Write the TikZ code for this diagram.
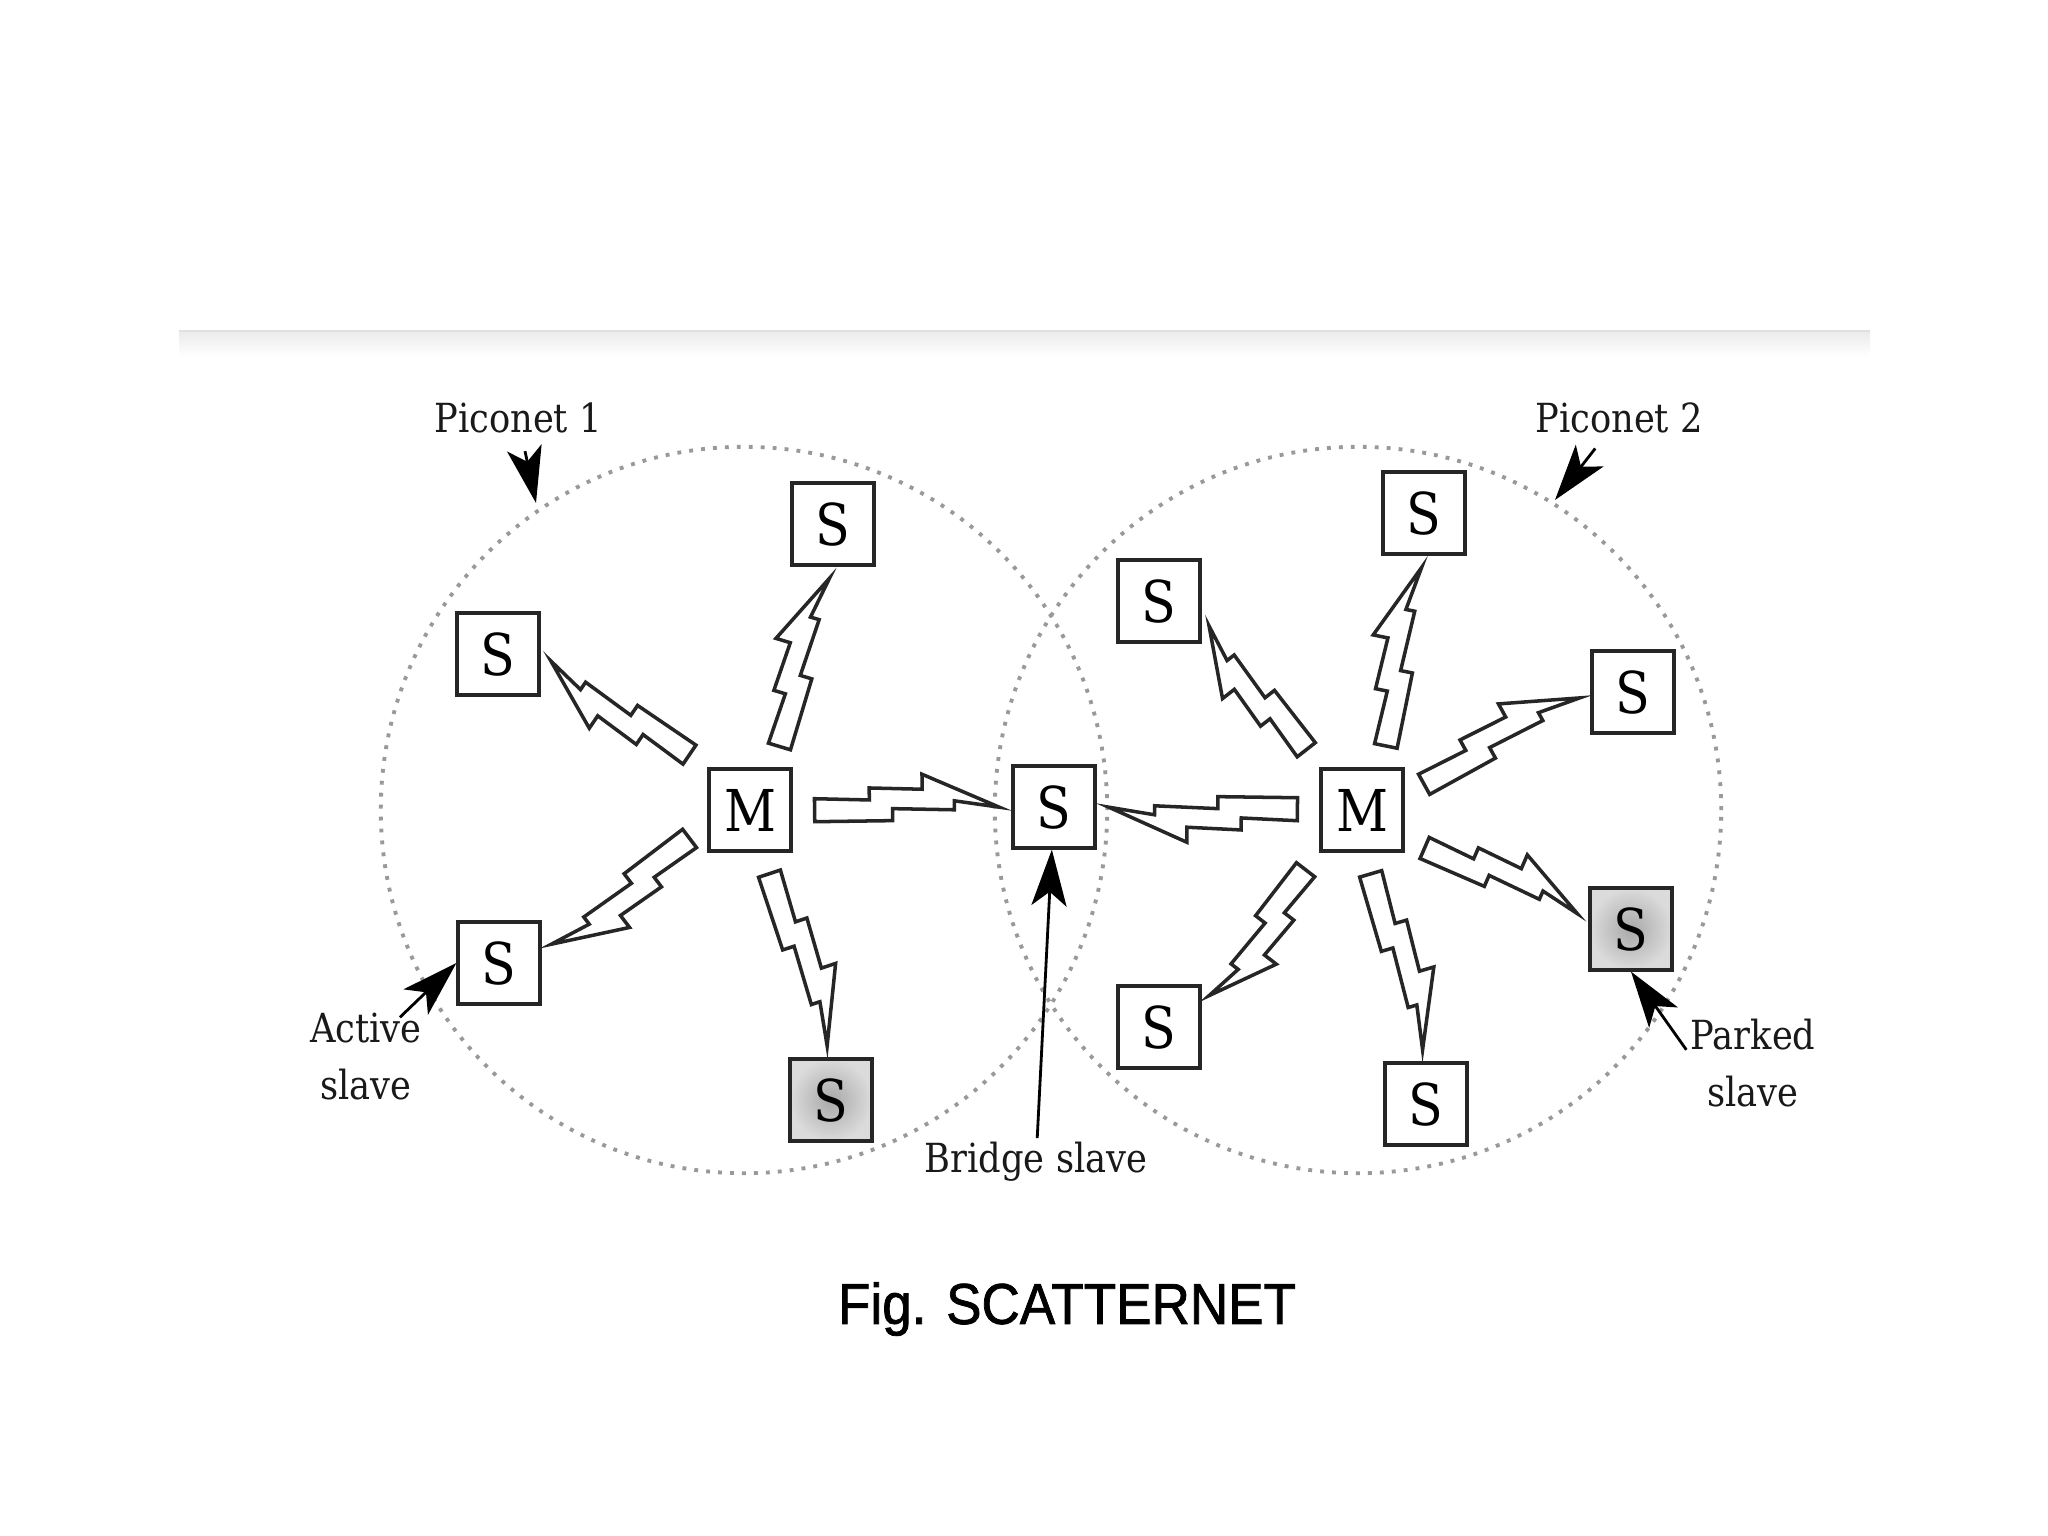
\documentclass[tikz,border=0pt]{standalone}
\usepackage{fontspec}
\usepackage{tikz}
\usetikzlibrary{arrows.meta,calc}
\newfontfamily\labelfont[FakeStretch=0.88]{DejaVu Serif}
\newfontfamily\capfont[FakeStretch=0.92,FakeBold=1.3]{Liberation Sans}
% zigzag radio link between two border points, master side (#1) to slave side (#2), sizes in px
\newcommand{\bolt}[2]{%
  \coordinate (boltfrom) at (#1);
  \coordinate (boltto) at (#2);
  \pgfmathanglebetweenpoints{\pgfpointanchor{boltfrom}{center}}{\pgfpointanchor{boltto}{center}}%
  \let\boltang\pgfmathresult
  \pgfpointdiff{\pgfpointanchor{boltfrom}{center}}{\pgfpointanchor{boltto}{center}}%
  \pgfgetlastxy{\boltdx}{\boltdy}%
  \pgfmathsetmacro{\boltlen}{veclen(\boltdx,\boltdy)/0.28453-34}%
  \begin{scope}[shift={(boltfrom)},rotate=\boltang,x=0.01cm,y=0.01cm]
    \draw[boltline] (22,11) -- ({22+.297*\boltlen},9) -- ({22+.297*\boltlen},21)
      -- ({22+.584*\boltlen},19) -- ({22+.584*\boltlen},34) -- ({22+\boltlen},0)
      -- ({22+.757*\boltlen},7) -- ({22+.757*\boltlen},-2) -- ({22+.422*\boltlen},0)
      -- ({22+.422*\boltlen},-12) -- (22,-12) -- cycle;
  \end{scope}}

\begin{document}
\begin{tikzpicture}[x=0.01cm,y=-0.01cm,
 every node/.style={align=center},
 station/.style={draw=black!85,fill=white,line width=0.9pt,minimum size=0.82cm,inner sep=0pt,font=\labelfont\fontsize{16.4}{18}\selectfont},
 parked/.style={station,inner color=black!34,outer color=black!14},
 piconet/.style={circle,draw=black!40,line width=1.1pt,dash pattern=on 1.1pt off 2.3pt,minimum size=7.26cm,inner sep=0pt},
 tag/.style={font=\labelfont\fontsize{11.4}{16.2}\selectfont,text=black!90,inner sep=1pt},
 pointer/.style={-{Stealth[length=16pt,width=10pt,inset=4pt]},line width=0.8pt,black},
 boltline/.style={draw=black!85,fill=white,line width=1pt,line join=miter}
]
\useasboundingbox (0,0) rectangle (2048,1536);
% header rule
\fill[top color=black!8,bottom color=white] (179,331) rectangle (1870,356);
\draw[black!12,line width=0.6pt] (179,331) -- (1870,331);
% piconets
\node[piconet] (net1) at (744,810) {};
\node[piconet] (net2) at (1358,810) {};
% piconet 1
\node[station] (m1) at (750,810) {M};
\node[station] (p1n) at (833,524) {S};
\node[station] (p1w) at (498,654) {S};
\node[station] (p1a) at (499,963) {S};
\node[parked] (p1p) at (831,1100) {S};
% bridge
\node[station] (br) at (1054,807) {S};
% piconet 2
\node[station] (m2) at (1362,810) {M};
\node[station] (p2n) at (1424,513) {S};
\node[station] (p2nw) at (1159,601) {S};
\node[station] (p2e) at (1633,692) {S};
\node[parked] (p2p) at (1631,929) {S};
\node[station] (p2sw) at (1159,1027) {S};
\node[station] (p2s) at (1426,1104) {S};
% radio links
\bolt{m1.62}{p1n.south}
\bolt{m1.north west}{p1w.east}
\bolt{m1.east}{br.west}
\bolt{m1.200}{p1a.15}
\bolt{m1.-73}{p1p.north}
\bolt{m2.66}{p2n.south}
\bolt{m2.north west}{p2nw.-20}
\bolt{m2.20}{p2e.west}
\bolt{m2.west}{br.east}
\bolt{m2.-34}{p2p.166}
\bolt{m2.south west}{p2sw.27}
\bolt{m2.-86}{p2s.north}
% labels
\node[tag] (pico1) at (518,418) {Piconet 1};
\coordinate (pico1tip) at (536,503);
\draw[pointer,shorten <=4pt] (pico1) -- (pico1tip);
\node[tag] (pico2) at (1619,418) {Piconet 2};
\coordinate (pico2tip) at (1555,500);
\draw[pointer,shorten <=4pt] (pico2) -- (pico2tip);
\node[tag] (actlbl) at (366,1057) {Active\\slave};
\draw[pointer] ([xshift=-0.26cm,yshift=-0.08cm]actlbl.north east) -- (p1a.west);
\node[tag] (brlbl) at (1036,1162) {Bridge slave};
\draw[pointer] (brlbl) -- (br);
\node[tag] (parklbl) at (1753,1063) {Parked\\slave};
\draw[pointer] ([yshift=-0.35cm]parklbl.north west) -- (p2p.south);
\node[font=\capfont\fontsize{16.4}{20}\selectfont] (caption) at (1067,1309) {Fig. SCATTERNET};
\end{tikzpicture}
\end{document}
